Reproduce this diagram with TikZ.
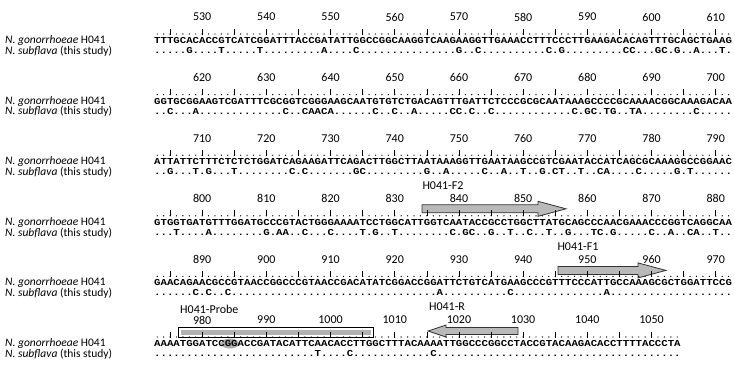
\documentclass[tikz,border=0pt]{standalone}
\usepackage{fontspec}
\usepackage{graphicx}
\setmainfont{Carlito}
\newfontfamily\seqfont{Liberation Mono}
\tikzset{
  num/.style={font=\fontsize{12}{12}\selectfont, inner sep=0pt},
  lab/.style={font=\fontsize{11.5}{11.5}\selectfont, anchor=west, inner sep=0pt},
  seqtxt/.style={font=\seqfont\bfseries\fontsize{10.7}{10}\selectfont, anchor=west, inner sep=0pt},
  primer/.style={fill=gray!55, draw=black!80, line width=0.8pt},
  plab/.style={font=\fontsize{12}{12}\selectfont, inner sep=0pt},
}
\newcommand\seqblock[8]{% #1 name, #2 y, #3 gon, #4 sub, #5 last idx, #6 label list, #7 start pos
  \node[lab] (#1g) at (5,#2+23.5) {\textit{N. gonorrhoeae} H041};
  \node[lab] (#1s) at (5,#2+34) {\textit{N. subflava} (this study)};
  \node[seqtxt] (#1seq) at (154,#2+23.5) {\scalebox{1}[0.85]{#3}};
  \node[seqtxt] (#1sub) at (154,#2+33.5) {\scalebox{1}[0.85]{#4}};
  \foreach \i in {0,...,#5} \fill (157.21+6.42*\i,#2+17) circle (0.7);
  \foreach \i in {2,7,...,#5} \draw[line width=0.6pt] (157.21+6.42*\i,#2+11.5) -- ++(0,6);
  \foreach \v in {#6} \node[num] (#1n\v) at ({157.21+6.42*(\v-#7)},#2) {\v};
}
\begin{document}
\begin{tikzpicture}[x=1pt,y=-1pt]
\useasboundingbox (0,0) rectangle (735,375);
% primers and probe (drawn below the numbers)
\node[plab] (lf2) at (443,186) {H041-F2};
\draw[primer] (422,204.8) -- (538,204.8) -- (538,201.3) -- (566,208.8) -- (538,216.3) -- (538,212.8) -- (422,212.8) -- cycle;
\node[plab] (lf1) at (578,247) {H041-F1};
\draw[primer] (558,266.4) -- (638,266.4) -- (638,262.9) -- (666,270.4) -- (638,277.9) -- (638,274.4) -- (558,274.4) -- cycle;
\node[plab, anchor=west] (lpr) at (180,309) {H041-Probe};
\draw[line width=0.8pt] (178,327) rectangle (373,337);
\fill[gray!60] (180.5,329.5) rectangle (370.5,334.5);
\node[plab] (lr) at (447,306.5) {H041-R};
\draw[primer] (518,327.5) -- (446,327.5) -- (446,325) -- (428,331) -- (446,337) -- (446,334.5) -- (518,334.5) -- cycle;
\fill[gray!65] (230,343.5) ellipse (9 and 5);
% blocks
\seqblock{a}{17}{TTTGCACACC{}GTCATCGGAT{}TTACCGATAT{}TGGCCGGCAA{}GGTCAAGAAG{}GTTGAAACCT{}TTCCCTTGAA{}GACACAGTTT{}GCAGCTGAAG}{.....G....{}T.....T...{}......A...{}.C........{}.......G..{}C.........{}.C.G......{}...CC...GC{}.G..A...T.}{89}{530,540,...,610}{523}{}
\seqblock{b}{77.6}{GGTGCGGAAG{}TCGATTTCGC{}GGTCGGGAAG{}CAATGTGTCT{}GACAGTTTGA{}TTCTCCCGCG{}CAATAAAGCC{}CCGCAAAACG{}GCAAAGACAA}{..C...A...{}..........{}C..CAACA..{}....C..C..{}A.....CC.C{}..C.......{}.....C.GC.{}TG..TA....{}....C.....}{89}{620,630,...,700}{613}{}
\seqblock{c}{138.2}{ATTATTCTTT{}CTCTCTGGAT{}CAGAAGATTC{}AGACTTGGCT{}TAATAAAGGT{}TGAATAAGCC{}GTCGAATACC{}ATCAGCGCAA{}AGGCCGGAAC}{..G...T.G.{}..T.......{}.C.C......{}.GC.......{}..G..A....{}.C..A..T..{}G.CT..T..C{}A....C....{}.G.T......}{89}{710,720,...,790}{703}{}
\seqblock{d}{198.8}{GTGGTGATGT{}TTGGATGCCC{}GTACTGGGAA{}AATCCTGGCA{}TTGGTCAATA{}CCGCCTGGCT{}TATGCAGCCC{}AACGAAACCC{}GGTCAGGCAA}{...T....A.{}.......G.A{}A..C...C..{}..T.G..T..{}......C.GC{}..G..T..C.{}.T..G...TC{}.G.....C..{}A..CA..T..}{89}{800,810,...,880}{793}{}
\seqblock{e}{259.4}{GAACAGAACG{}CCGTAACCGG{}CCCGTAACCG{}ACATATCGGA{}CCGGATTCTG{}TCATGAAGCC{}CGTTTCCCAT{}TGCCAAAGCG{}CTGGATTCCG}{......C.C.{}.C........{}..........{}..........{}....A.....{}.....C....{}..........{}A.........{}..........}{89}{890,900,...,970}{883}{}
\seqblock{f}{320}{AAAATGGATC{}CGGACCGATA{}CATTCAACAC{}CTTGGCTTTA{}CAAAATTGGC{}CCGGCCTACC{}GTACAAGACA{}CCTTTTACCCTA}{..........{}..........{}.....T....{}C.........{}...C......{}..........{}..........{}..........{}..}{81}{980,990,...,1050}{973}{}
\end{tikzpicture}
\end{document}
